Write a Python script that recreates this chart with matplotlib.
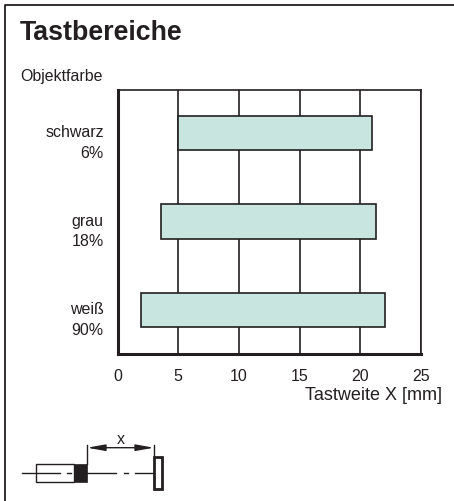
import matplotlib
matplotlib.use("Agg")
import matplotlib.pyplot as plt
from matplotlib.patches import Rectangle

# Daten
farben = ["weiß\n90%", "grau\n18%", "schwarz\n6%"]
start = [1.9, 3.6, 5.0]
ende = [22.0, 21.3, 21.0]
x_ticks = [0, 5, 10, 15, 20, 25]

W, H = 454, 501
DUNKEL = "#231f20"
plt.rcParams["font.family"] = ["Liberation Sans"]

fig = plt.figure(figsize=(W / 100, H / 100), dpi=100)

# Hintergrund in Pixelkoordinaten: Rahmen und Skizze
bg = fig.add_axes([0, 0, 1, 1])
bg.set_xlim(0, W)
bg.set_ylim(H, 0)
bg.axis("off")
bg.plot([5, 5, 454], [501, 5, 5], color=DUNKEL, lw=1.3)

# Skizze Sensor
MITTE = 472.7
for x0, x1 in [(22, 60), (67, 71), (87, 116), (124, 128), (135, 153)]:
    bg.plot([x0, x1], [MITTE, MITTE], color=DUNKEL, lw=1, zorder=3)
bg.add_patch(Rectangle((36, 463.5), 38, 18, fc="none", ec=DUNKEL, lw=1))
bg.add_patch(Rectangle((74, 463.5), 13, 18, fc=DUNKEL, ec=DUNKEL, lw=0.5))
bg.add_patch(Rectangle((154, 456.5), 8, 32, fc="white", ec=DUNKEL, lw=2))
bg.plot([86.5, 86.5], [445, 464], color=DUNKEL, lw=1)
bg.plot([154, 154], [445, 456], color=DUNKEL, lw=1)
bg.annotate("", xy=(87, 447.7), xytext=(154, 447.7),
            arrowprops=dict(arrowstyle="<|-|>,head_length=0.9,head_width=0.16", color=DUNKEL, lw=1,
                            shrinkA=0, shrinkB=0, mutation_scale=12))
bg.text(120.7, 439, "x", ha="center", va="center", fontsize=11.5, color=DUNKEL)

bg.text(20, 32.5, "Tastbereiche", fontsize=19.3, fontweight="bold", color=DUNKEL, va="center")
bg.text(20, 76, "Objektfarbe", fontsize=11.4, color=DUNKEL, va="center")
bg.text(442, 395, "Tastweite X [mm]", fontsize=13, color=DUNKEL, ha="right", va="center")

# Diagramm
ax = fig.add_axes([117.5 / W, 1 - 353.7 / H, 303.5 / W, 263.7 / H])
ax.patch.set_alpha(0)
pos = list(range(len(farben)))
breite = [e - s for s, e in zip(start, ende)]
ax.barh(pos, breite, left=start, height=0.395, color="#c8e5df", edgecolor=DUNKEL, linewidth=1.2, zorder=3)
ax.set_xlim(0, 25)
ax.set_ylim(-0.494, 2.486)
ax.set_xticks(x_ticks)
ax.set_yticks(pos)
ax.set_yticklabels([])
ax.tick_params(axis="both", length=0, labelsize=11.5, labelcolor=DUNKEL)
ax.tick_params(axis="x", pad=11)
ax.grid(axis="x", color=DUNKEL, lw=1.2, zorder=1)
for seite, lw in [("left", 2.2), ("bottom", 2.2), ("top", 1.2), ("right", 1.2)]:
    ax.spines[seite].set_linewidth(lw)
    ax.spines[seite].set_color(DUNKEL)

# erste Zeile der Beschriftung liegt auf Balkenmitte
for p, name in zip(pos, farben):
    ax.annotate(name, xy=(0, p), xycoords=ax.get_yaxis_transform(), xytext=(-10, 5.5),
                textcoords="offset points", ha="right", va="top", ma="right",
                fontsize=11.5, color=DUNKEL, linespacing=1.45)

fig.savefig("out.png", dpi=100)
